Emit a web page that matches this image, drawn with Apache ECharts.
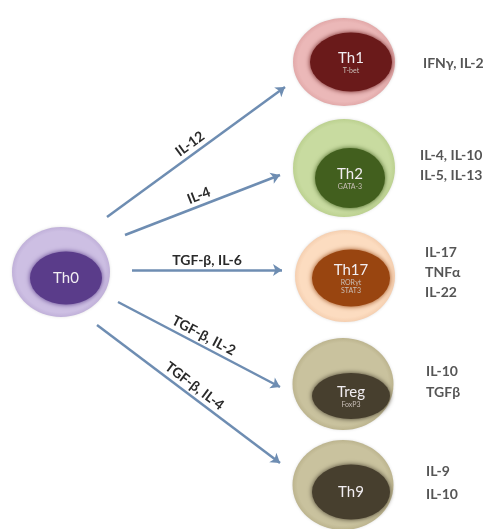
<!DOCTYPE html>
<html><head><meta charset="utf-8">
<script src="https://cdn.jsdelivr.net/npm/echarts@6/dist/echarts.min.js"></script>
<style>html,body{margin:0;padding:0;background:#fff;overflow:hidden}#c{width:487px;height:529px}</style>
</head><body><div id="c"></div>
<script>
// ---- content ----
const cells = ['Th0', 'Th1', 'Th2', 'Th17', 'Treg', 'Th9'];
const factors = ['', 'T-bet', 'GATA-3', 'RORγt\nSTAT3', 'FoxP3', ''];
const cytokines = ['', 'IFNγ, IL-2', 'IL-4, IL-10\nIL-5, IL-13', 'IL-17\nTNFα\nIL-22', 'IL-10\nTGFβ', 'IL-9\nIL-10'];
const inducers = ['IL-12', 'IL-4', 'TGF-β, IL-6', 'TGF-β, IL-2', 'TGF-β, IL-4'];

// ---- layout (diagram coordinates on hidden axes) ----
const cellX = [61, 344, 344, 345, 343, 343];
const cellY = [272, 62, 168, 276, 384, 485];
const innerDX = [5, 7, 6, 6, 8, 8];
const innerDY = [6, 0, 10, 2, 12, 7];
const cytoX = [0, 423, 420, 425, 426, 426];
const cytoY = [0, 63, 165, 272, 382, 483];
const arrowFrom = [[107, 217], [125, 235], [132, 270], [118, 302], [97, 325]];
const arrowTo = [[285, 87], [280, 175], [282, 270], [280, 387], [280, 463]];

// ---- styles ----
const outerSize = [[98, 90], [102, 88], [102, 98], [100, 92], [101, 92], [101, 90]];
const innerSize = [[72, 53], [82, 59], [70, 60], [78, 57], [78, 46], [78, 55]];
const outerColor = ['#cdbfe3', '#ebb8b8', '#c8dba0', '#fcdcc0', '#c9c29e', '#c9c29e'];
const outerEdge = ['#c0b0d9', '#e2a9a9', '#bcd190', '#f5cfb0', '#bcb48e', '#bcb48e'];
const innerColor = ['#5a3c8a', '#6a1a1a', '#425f1e', '#994510', '#473f2e', '#473f2e'];
const cytoLineH = [16, 16, 20, 20, 21, 23];
const FONT = 'Lato, "Open Sans", sans-serif';

const chart = echarts.init(document.getElementById('c'), null, {renderer: 'canvas'});
chart.setOption({
  animation: false,
  backgroundColor: '#ffffff',
  grid: {left: 0, right: 0, top: 0, bottom: 0},
  xAxis: {type: 'value', min: 0, max: 487, show: false},
  yAxis: {type: 'value', min: 0, max: 529, inverse: true, show: false},
  series: [
    {
      type: 'lines', coordinateSystem: 'cartesian2d', z: 1,
      symbol: ['none', 'arrow'], symbolSize: 9,
      lineStyle: {color: '#6e8db2', width: 2.5, opacity: 1},
      label: {show: true, position: 'middle', formatter: '{b}', color: '#2a2a2a', fontSize: 14, fontWeight: 'bold', fontFamily: FONT, distance: 3},
      data: inducers.map((n, i) => ({name: n, coords: [arrowFrom[i], arrowTo[i]]}))
    },
    {
      type: 'scatter', z: 2, silent: true,
      data: cells.map((n, i) => ({
        name: n, value: [cellX[i], cellY[i]], symbolSize: outerSize[i],
        itemStyle: {
          color: {type: 'radial', x: 0.5, y: 0.5, r: 0.5, colorStops: [
            {offset: 0, color: outerColor[i]}, {offset: 0.9, color: outerColor[i]}, {offset: 1, color: outerEdge[i]}]},
          shadowBlur: 3, shadowColor: 'rgba(0,0,0,0.12)', opacity: 1
        }
      })),
      symbol: 'circle'
    },
    {
      type: 'scatter', z: 3, silent: true, symbol: 'circle',
      data: cells.map((n, i) => ({
        name: n, value: [cellX[i] + innerDX[i], cellY[i] + innerDY[i]], symbolSize: innerSize[i],
        itemStyle: {color: innerColor[i], shadowBlur: 5, shadowColor: innerColor[i], opacity: 1}
      })),
      label: {
        show: true, position: 'inside',
        formatter: p => factors[p.dataIndex] ? '{a|' + p.name + '}\n' + factors[p.dataIndex].split('\n').map(s => '{b|' + s + '}').join('\n') : '{a|' + p.name + '}',
        rich: {
          a: {color: '#f2eef2', fontSize: 15, fontFamily: FONT, lineHeight: 17, align: 'center'},
          b: {color: '#c9bfb8', fontSize: 7, fontFamily: FONT, lineHeight: 8, align: 'center'}
        }
      }
    },
    {
      type: 'scatter', z: 4, silent: true, symbolSize: 0,
      data: cells.map((n, i) => ({
        name: cytokines[i], value: [cytoX[i], cytoY[i]],
        label: {lineHeight: cytoLineH[i]}
      })).filter(d => d.name),
      label: {show: true, position: 'right', distance: 0, formatter: '{b}', color: '#2a2a2a', fontSize: 14, fontWeight: 'bold', fontFamily: FONT, align: 'left'}
    }
  ]
});
</script></body></html>
